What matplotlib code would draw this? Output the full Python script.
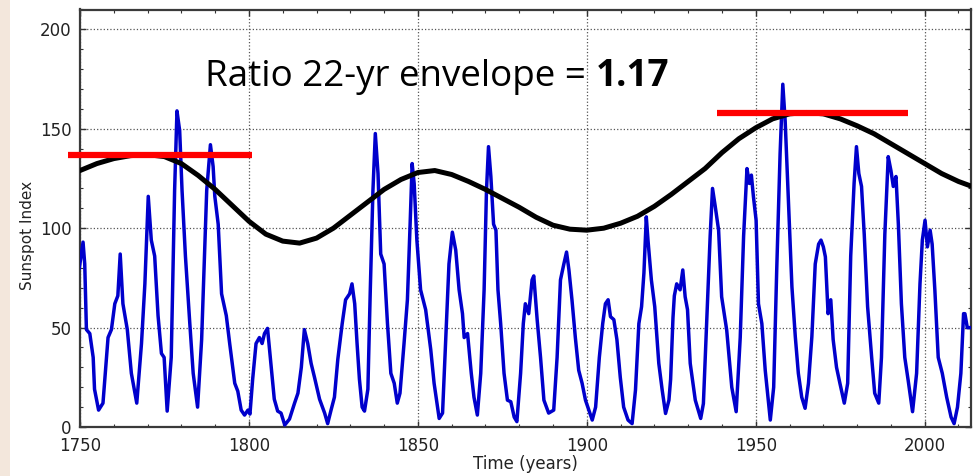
import matplotlib
matplotlib.use("Agg")
import matplotlib.pyplot as plt
from matplotlib.patches import Rectangle
from matplotlib.ticker import MultipleLocator

# ---------------- data ----------------
sun_years = [1749.8, 1750.9, 1751.4, 1751.9, 1752.9, 1753.9, 1754.3, 1755.5, 1756.8, 1758.3,
             1759.3, 1760.3, 1761.2, 1761.9, 1762.7, 1764.0, 1765.2, 1766.8, 1768.2, 1769.2,
             1770.2, 1771.1, 1772.1, 1773.1, 1774.1, 1774.9, 1775.8, 1777.0, 1778.0, 1778.7,
             1779.5, 1780.2, 1781.2, 1782.5, 1783.5, 1784.8, 1786.0, 1787.5, 1788.6, 1789.4,
             1789.9, 1790.9, 1791.9, 1793.3, 1794.3, 1795.8, 1796.7, 1797.7, 1798.7, 1799.7,
             1800.3, 1801.1, 1802.1, 1803.1, 1803.9, 1804.6, 1805.5, 1806.5, 1807.5, 1808.5,
             1809.5, 1810.6, 1812.0, 1813.5, 1814.5, 1815.5, 1816.4, 1817.4, 1818.4, 1819.4,
             1820.9, 1822.4, 1823.3, 1824.3, 1825.3, 1826.3, 1827.6, 1828.6, 1829.8, 1830.5,
             1831.3, 1832.0, 1832.7, 1833.5, 1834.2, 1835.2, 1835.9, 1836.7, 1837.4, 1838.2,
             1839.0, 1840.0, 1841.0, 1842.0, 1843.0, 1843.9, 1844.7, 1845.9, 1846.9, 1847.7,
             1848.3, 1848.9, 1849.7, 1850.8, 1852.3, 1853.8, 1854.8, 1856.3, 1857.3, 1858.3,
             1859.2, 1860.2, 1861.2, 1862.2, 1863.2, 1863.7, 1864.7, 1865.8, 1866.6, 1867.6,
             1868.6, 1869.6, 1870.3, 1870.9, 1871.6, 1872.4, 1873.1, 1873.7, 1874.5, 1875.5,
             1876.5, 1877.5, 1878.5, 1879.3, 1880.4, 1881.2, 1881.8, 1882.8, 1883.8, 1884.3,
             1885.3, 1886.3, 1887.3, 1888.7, 1890.2, 1891.2, 1892.2, 1893.2, 1894.0, 1894.7,
             1895.6, 1896.6, 1897.6, 1898.6, 1899.6, 1900.6, 1901.6, 1902.6, 1903.7, 1904.7,
             1905.5, 1906.3, 1907.0, 1908.0, 1908.9, 1909.9, 1910.9, 1912.2, 1913.4, 1914.4,
             1915.4, 1916.2, 1916.9, 1917.6, 1918.1, 1919.1, 1920.1, 1921.3, 1922.3, 1923.3,
             1924.3, 1924.8, 1925.5, 1925.9, 1926.6, 1927.6, 1928.4, 1929.1, 1929.8, 1930.6,
             1932.1, 1933.7, 1934.5, 1935.5, 1936.5, 1937.2, 1938.0, 1939.0, 1939.9, 1941.4,
             1942.9, 1944.2, 1945.4, 1946.4, 1947.4, 1948.1, 1948.7, 1949.3, 1950.1, 1950.8,
             1951.8, 1952.8, 1954.3, 1955.3, 1956.2, 1957.2, 1958.0, 1958.7, 1959.7, 1960.7,
             1961.7, 1962.6, 1963.6, 1964.6, 1965.6, 1966.6, 1967.6, 1968.6, 1969.3, 1970.0,
             1970.6, 1971.4, 1972.2, 1972.9, 1973.9, 1974.9, 1976.2, 1977.2, 1978.1, 1979.1,
             1979.8, 1980.5, 1981.3, 1982.1, 1983.1, 1984.3, 1985.2, 1986.4, 1987.2, 1988.2,
             1989.2, 1990.0, 1990.7, 1991.5, 1992.2, 1993.1, 1994.1, 1995.1, 1996.4, 1997.6,
             1998.6, 1999.3, 2000.1, 2000.8, 2001.6, 2002.2, 2003.0, 2004.0, 2005.2, 2006.5,
             2007.8, 2008.7, 2009.7, 2010.7, 2011.5, 2011.9, 2012.6, 2013.4]
sun_index = [80, 93, 82, 49, 47, 35, 19, 8.5, 12, 45,
             49, 62, 66, 87, 62, 49, 27, 12, 42, 72,
             116, 94, 86, 56, 37, 35, 8, 35, 119, 159,
             149, 119, 86, 52, 27, 10, 44, 119, 142, 131,
             116, 102, 67, 56, 42, 22, 18, 8.5, 6, 8.5,
             6.5, 24, 42, 45, 42, 47, 49.6, 32, 14, 8,
             7, 1, 4, 12, 17, 30, 49, 42, 32, 25,
             14, 7, 1.7, 8.5, 15, 34, 52, 64, 67, 72,
             62, 42, 24, 10, 8, 19, 68, 119, 147.6, 127.5,
             87, 82, 52, 27, 22, 12, 17, 42, 64, 102,
             132.5, 122.5, 94, 69, 59, 39, 22, 4.3, 7, 47,
             82, 98, 89, 69, 57, 45, 47, 27, 15, 6,
             27, 69, 119, 141, 126, 102, 99, 69, 52, 27,
             13.5, 12.7, 5, 2.7, 27, 52, 62, 57, 74, 76,
             54, 35, 13.5, 7, 8.5, 35, 74, 82, 88, 79,
             64, 45, 28.5, 22, 13.5, 8.5, 3.5, 10, 35, 52,
             62, 64, 55.5, 54, 44, 25, 10, 3.5, 1.7, 18.6,
             52, 60.5, 77.5, 105.7, 94, 74, 60.5, 32, 18.6, 6.8,
             13.5, 24, 55, 66, 72, 69, 79, 65.5, 59, 32,
             13.5, 4.3, 11.8, 54, 96, 120, 111, 99, 65.5, 48.7,
             20, 7.7, 45, 96, 130, 122.5, 126.7, 116, 104, 62,
             52, 28.5, 3.5, 20, 79, 137.5, 172.4, 154, 112.5, 70.5,
             45.4, 27, 15, 9.4, 22, 45.4, 82, 92, 94, 90.6,
             85.6, 57, 64, 44, 30, 22, 12, 22, 86, 122.5,
             141, 127.5, 121, 97, 60.5, 35, 17, 12, 35, 97,
             136, 129, 121, 126, 102, 62, 35, 23.5, 7.7, 27,
             72, 94, 104, 90.6, 99, 92, 69, 35, 27, 15,
             5, 1.7, 10, 27, 57, 57, 50, 50]

env_years = [1750, 1755, 1760, 1765, 1770, 1775, 1780, 1785, 1790, 1795,
             1800, 1805, 1810, 1815, 1820, 1825, 1830, 1835, 1840, 1845,
             1850, 1855, 1860, 1865, 1870, 1875, 1880, 1885, 1890, 1895,
             1900, 1905, 1910, 1915, 1920, 1925, 1930, 1935, 1940, 1945,
             1950, 1955, 1960, 1965, 1970, 1975, 1980, 1985, 1990, 1995,
             2000, 2005, 2010, 2014]
env_index = [129, 132.5, 135, 136.5, 137, 136, 132.5, 126.5, 119.5, 111.5,
             103.5, 97, 93.5, 92.5, 95, 100, 106.5, 113, 119.5, 124.5,
             128, 129, 127, 123.5, 119.5, 115, 110.5, 105.5, 101.5, 99.5,
             99, 100, 102.5, 106, 111, 117, 123.5, 130, 138, 145,
             150.5, 155, 157.5, 158.2, 157.5, 155, 151.5, 147.5, 142.5, 137.5,
             132.5, 127.5, 123.5, 121]

max_x = [[1746.4, 1800.8], [1938.5, 1995.0]]
max_level = [136.7, 158.0]

x_ticks = [1750, 1800, 1850, 1900, 1950, 2000]
y_ticks = [0, 50, 100, 150, 200]

ratio_text = "Ratio 22-yr envelope = "
ratio_value = "1.17"

# ---------------- figure ----------------
fig = plt.figure(figsize=(9.78, 4.76), dpi=100)
fig.patch.set_facecolor("white")
fig.patches.append(Rectangle((0, 0), 10 / 978, 1, transform=fig.transFigure,
                             facecolor="#f3e7dc", edgecolor="none", zorder=0))

ax = fig.add_axes([80 / 978, 49 / 476, 891 / 978, 417.5 / 476])
ax.set_xlim(1750, 2013.7)
ax.set_ylim(0, 210)

ax.plot(sun_years, sun_index, color="#0000cc", lw=2.5, solid_joinstyle="round", zorder=3)
ax.plot(env_years, env_index, color="black", lw=3.6, zorder=4)
for xs, lvl in zip(max_x, max_level):
    ax.plot(xs, [lvl, lvl], color="#ff0000", lw=4.5, solid_capstyle="butt",
            clip_on=False, zorder=5)

ax.set_xticks(x_ticks)
ax.set_yticks(y_ticks)
ax.xaxis.set_minor_locator(MultipleLocator(10))
ax.yaxis.set_minor_locator(MultipleLocator(10))
ax.tick_params(which="both", direction="in", top=True, right=True, colors="#333333",
               labelcolor="#222222")
ax.tick_params(which="major", length=4.5, width=1.0, labelsize=12)
ax.tick_params(axis="x", which="major", pad=7)
ax.tick_params(axis="y", which="major", pad=6)
ax.tick_params(which="minor", length=2.2, width=0.8)
for s in ax.spines.values():
    s.set_color("#3a3a3a")
    s.set_linewidth(1.6)

ax.grid(True, which="major", linestyle=":", color="#555555", lw=0.9, zorder=0)

ax.set_xlabel("Time (years)", fontsize=12, color="#222222", labelpad=0)
ax.set_ylabel("Sunspot Index", fontsize=11, color="#222222")
ax.yaxis.set_label_coords(-0.0505, 0.46)

t1 = ax.text(0.1403, 0.8168, ratio_text, transform=ax.transAxes, fontsize=26.5,
             family="Open Sans", va="baseline", ha="left", color="black", zorder=6)
ax.annotate(ratio_value, xy=(1, 0), xycoords=t1, fontsize=26.5, family="Open Sans",
            fontweight="bold", va="bottom", ha="left", color="black", zorder=6)

fig.savefig("out.png", dpi=100)
